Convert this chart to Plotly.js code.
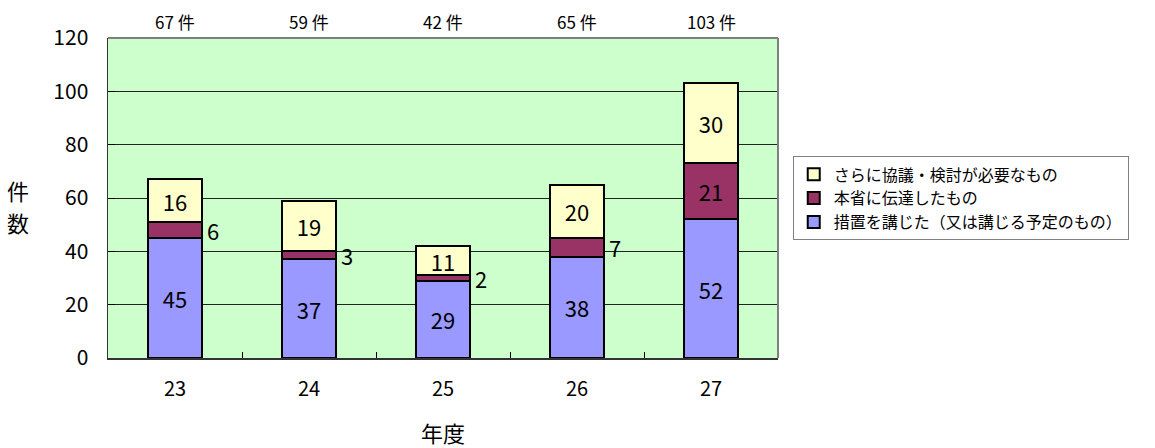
<!DOCTYPE html>
<html><head><meta charset="utf-8">
<script src="https://cdn.plot.ly/plotly-3.0.1.min.js"></script>
<style>html,body{margin:0;padding:0;background:#fff;}#chart{width:1155px;height:448px;}</style>
</head><body><div id="chart"></div>
<script>
const years = ['23','24','25','26','27'];
const measures = [45, 37, 29, 38, 52];
const reported = [6, 3, 2, 7, 21];
const further = [16, 19, 11, 20, 30];
const totalLabels = ['67 件','59 件','42 件','65 件','103 件'];
const names = ['措置を講じた（又は講じる予定のもの）','本省に伝達したもの','さらに協議・検討が必要なもの'];

const F = '"Noto Sans CJK JP", "Noto Sans", sans-serif';
const line = {color:'#000', width:2};
const insideMin = 10;
const tf = {family:F, size:22, color:'#000'};

const traces = [
  {type:'bar', x:years, y:measures, name:names[0], marker:{color:'#9999FF', line:line},
   text:measures.map(String), textposition:'inside', insidetextanchor:'middle', textangle:0, constraintext:'none',
   textfont:tf, hoverinfo:'y'},
  {type:'bar', x:years, y:reported, name:names[1], marker:{color:'#993366', line:line},
   text:reported.map(v => v >= insideMin ? String(v) : ''), textposition:'inside', insidetextanchor:'middle', textangle:0, constraintext:'none',
   textfont:tf, hoverinfo:'y'},
  {type:'bar', x:years, y:further, name:names[2], marker:{color:'#FFFFCC', line:line},
   text:further.map(String), textposition:'inside', insidetextanchor:'middle', textangle:0, constraintext:'none',
   textfont:tf, hoverinfo:'y'}
];

const annotations = [];
years.forEach((yr, i) => {
  annotations.push({x:i, xref:'x', y:1.05, yref:'paper', text:totalLabels[i], showarrow:false,
    font:{family:F, size:17, color:'#000'}, xanchor:'center', yanchor:'middle'});
  if (reported[i] < insideMin) {
    annotations.push({x:i, xref:'x', y:measures[i] + reported[i]/2, yref:'y', text:String(reported[i]),
      showarrow:false, xanchor:'left', yanchor:'middle', xshift:30, yshift:0,
      font:{family:F, size:22, color:'#000'}});
  }
});
annotations.push({x:0.5, xref:'paper', y:-0.232, yref:'paper', text:'年度', showarrow:false,
  font:{family:F, size:22, color:'#000'}, yanchor:'middle'});
annotations.push({x:-0.135, xref:'paper', y:0.525, yref:'paper', text:'件', showarrow:false,
  font:{family:F, size:22, color:'#000'}, xanchor:'center', yanchor:'middle'});
annotations.push({x:-0.135, xref:'paper', y:0.425, yref:'paper', text:'数', showarrow:false,
  font:{family:F, size:22, color:'#000'}, xanchor:'center', yanchor:'middle'});

const layout = {
  width:1155, height:448,
  margin:{l:108, r:377, t:38, b:90, pad:0},
  paper_bgcolor:'#fff', plot_bgcolor:'#CCFFCC',
  barmode:'stack', bargap:0.6,
  font:{family:F, color:'#000'},
  showlegend:true,
  legend:{x:1.022, xanchor:'left', y:0.63, yanchor:'top', bordercolor:'#808080', borderwidth:1,
    bgcolor:'#fff', font:{family:F, size:16, color:'#000'}, traceorder:'reversed', itemwidth:30,
    tracegroupgap:0},
  xaxis:{type:'category', range:[-0.5,4.5], tickson:'boundaries', ticks:'inside', ticklen:6, tickcolor:'#000',
    showline:true, linecolor:'#333', linewidth:2, mirror:false, showgrid:false, tickangle:0,
    tickfont:{family:F, size:20, color:'#000'}, ticklabelstandoff:12},
  yaxis:{range:[0,120], dtick:20, ticks:'inside', ticklen:7, tickcolor:'#000',
    showline:true, linecolor:'#333', linewidth:1.5, showgrid:true, gridcolor:'#222', gridwidth:1,
    tickfont:{family:F, size:21, color:'#000'}, ticklabelstandoff:14, zeroline:false},
  shapes:[
    {type:'line', xref:'paper', yref:'paper', x0:0, x1:1, y0:1, y1:1, line:{color:'#808080', width:2}},
    {type:'line', xref:'paper', yref:'paper', x0:1, x1:1, y0:0, y1:1, line:{color:'#808080', width:2}}
  ],
  annotations:annotations
};
Plotly.newPlot('chart', traces, layout, {displayModeBar:false, staticPlot:true});
</script></body></html>
